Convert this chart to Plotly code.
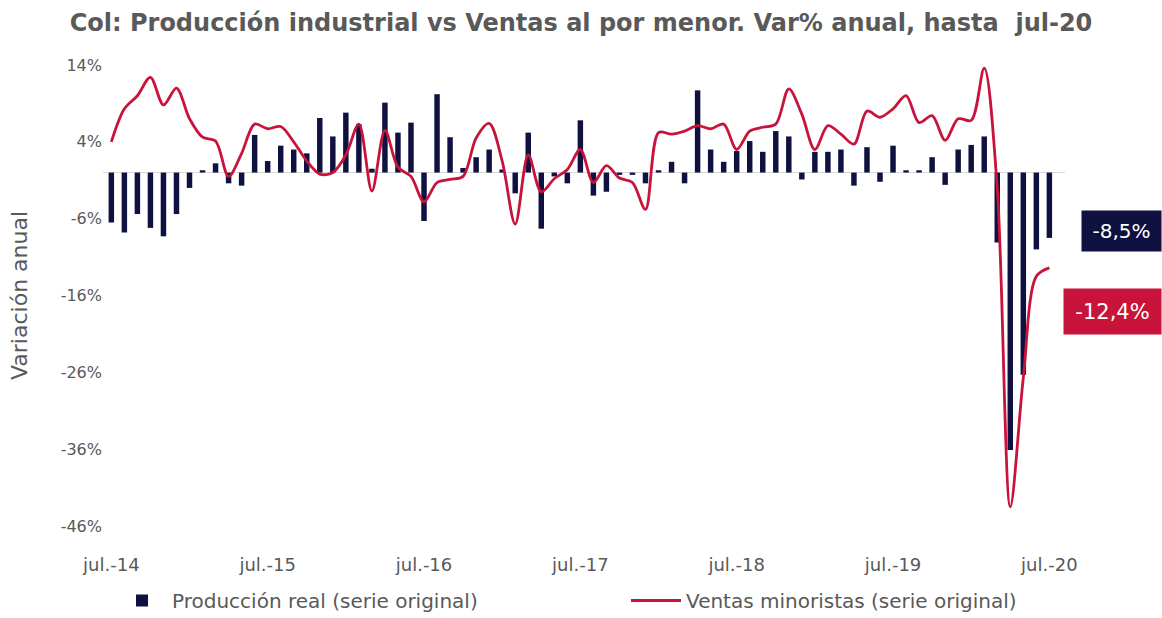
import plotly.graph_objects as go

# ---------------- data ----------------
meses = ["ene.", "feb.", "mar.", "abr.", "may.", "jun.",
         "jul.", "ago.", "sep.", "oct.", "nov.", "dic."]
categorias = [f"{meses[(6 + k) % 12]}-{14 + (6 + k) // 12}" for k in range(73)]

produccion = [
    -6.5, -7.8, -5.4, -7.2, -8.3, -5.4, -2.0, 0.3, 1.2, -1.4, -1.7, 4.9,      # jul-14 .. jun-15
    1.5, 3.5, 3.0, 2.5, 7.1, 4.7, 7.8, 6.3, 0.5, 9.1, 5.2, 6.5,               # jul-15 .. jun-16
    -6.3, 10.2, 4.6, 0.6, 2.0, 3.0, 0.4, -2.7, 5.2, -7.3, -0.5, -1.4,         # jul-16 .. jun-17
    6.8, -3.0, -2.5, -0.3, -0.3, -1.4, 0.3, 1.4, -1.4, 10.7, 3.0, 1.4,        # jul-17 .. jun-18
    2.8, 4.1, 2.7, 5.4, 4.7, -0.9, 2.7, 2.7, 3.0, -1.7, 3.3, -1.2,            # jul-18 .. jun-19
    3.5, 0.3, 0.3, 2.0, -1.6, 3.0, 3.6, 4.7, -9.1, -36.1, -26.3, -10.0,       # jul-19 .. jun-20
    -8.5,                                                                     # jul-20
]

ventas = [
    4.0, 8.3, 10.0, 12.4, 8.8, 11.0, 7.0, 4.6, 4.1, -0.5, 2.5, 6.3,
    5.7, 6.0, 4.0, 1.5, -0.2, 0.0, 2.3, 6.3, -2.4, 5.5, 0.7, -0.5,
    -3.8, -1.3, -0.9, -0.5, 4.5, 6.4, 1.5, -6.7, 2.3, -2.5, -0.8, 0.4,
    3.0, -1.3, 0.9, -0.7, -1.3, -4.8, 5.2, 5.0, 5.4, 6.1, 5.7, 6.3,
    3.0, 5.4, 5.9, 6.3, 10.9, 7.6, 3.0, 6.1, 5.0, 3.7, 8.0, 7.2,
    8.3, 10.0, 6.5, 7.4, 4.2, 7.0, 6.8, 13.6, -2.0, -43.5, -26.7, -13.5,
    -12.4,
]

x_ticks = ["jul.-14", "jul.-15", "jul.-16", "jul.-17", "jul.-18", "jul.-19", "jul.-20"]
y_ticks = [14, 4, -6, -16, -26, -36, -46]
y_tick_labels = ["14%", "4%", "-6%", "-16%", "-26%", "-36%", "-46%"]

ultimo_prod = "-8,5%"
ultimo_ventas = "-12,4%"

# ---------------- styles ----------------
NAVY = "#0f1140"
RED = "#c8133a"
GRAY = "#595959"
FONT = "DejaVu Sans"

fig = go.Figure()
fig.add_trace(go.Bar(
    x=categorias, y=produccion, name="Producción real (serie original)",
    marker=dict(color=NAVY, line=dict(width=0)), width=0.42, legend="legend",
))
fig.add_trace(go.Scatter(
    x=categorias, y=ventas, name="Ventas minoristas (serie original)",
    mode="lines", line=dict(color=RED, width=2.8, shape="spline", smoothing=0.9),
    legend="legend2",
))

legend_common = dict(
    orientation="h", xref="container", yref="container",
    xanchor="left", y=1 - 581 / 618, yanchor="top",
    font=dict(family=FONT, size=20, color=GRAY),
    itemwidth=50, bgcolor="rgba(0,0,0,0)",
)

fig.update_layout(
    width=1162, height=618,
    margin=dict(l=103, r=97, t=65, b=92, autoexpand=False),
    paper_bgcolor="white", plot_bgcolor="white",
    font=dict(family=FONT, color=GRAY, size=16),
    title=dict(
        text="<b>Col: Producción industrial vs Ventas al por menor. Var% anual, hasta&nbsp; jul-20</b>",
        font=dict(family=FONT, size=24, color=GRAY),
        x=0.5, xanchor="center", xref="container",
        y=1 - 23 / 618, yanchor="middle",
    ),
    showlegend=True,
    legend=dict(legend_common, x=112 / 1162),
    legend2=dict(legend_common, x=626 / 1162),
    xaxis=dict(
        type="category", range=[-0.64, 73.2],
        tickvals=x_ticks, ticktext=x_ticks, tickangle=0,
        ticks="outside", ticklen=22, tickcolor="rgba(0,0,0,0)",
        showgrid=False, showline=False, zeroline=False,
        tickfont=dict(family=FONT, size=18, color=GRAY),
    ),
    yaxis=dict(
        range=[-46, 14], tickvals=y_ticks, ticktext=y_tick_labels,
        showgrid=False, showline=False,
        zeroline=True, zerolinecolor="#d9d9d9", zerolinewidth=1,
        tickfont=dict(family=FONT, size=16, color=GRAY),
        title=dict(text="Variación anual", font=dict(family=FONT, size=22, color=GRAY), standoff=26),
    ),
    annotations=[
        dict(text=ultimo_prod, xref="paper", yref="paper", x=1.0587, y=0.64,
             xanchor="center", yanchor="middle", showarrow=False,
             bgcolor=NAVY, width=77, height=38,
             font=dict(family=FONT, size=20, color="white")),
        dict(text=ultimo_ventas, xref="paper", yref="paper", x=1.049, y=0.465,
             xanchor="center", yanchor="middle", showarrow=False,
             bgcolor=RED, width=95, height=43,
             font=dict(family=FONT, size=21, color="white")),
    ],
)

fig.write_html("out.html", config={"displayModeBar": False},
               post_script="document.body.style.margin='0';")
